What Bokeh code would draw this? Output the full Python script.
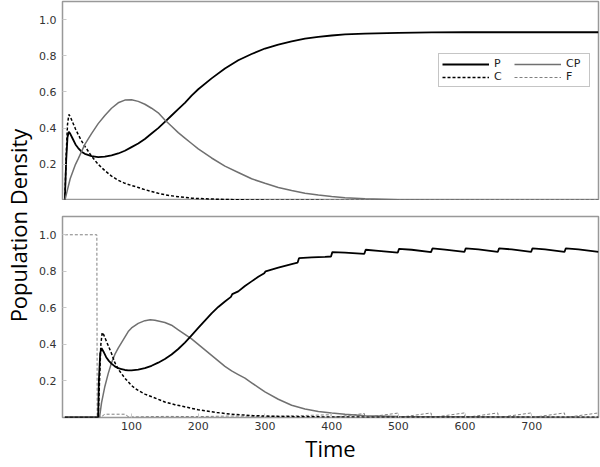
from bokeh.plotting import figure
from bokeh.layouts import row, column
from bokeh.models import Range1d, FixedTicker, Legend, LegendItem
from bokeh.embed import file_html
from bokeh.resources import INLINE

# ---------------- data ----------------
# Top panel
t_top = [0, 2, 4, 6, 8, 12, 16, 20, 25, 30, 40, 50, 60, 70, 80, 90, 100, 110, 120, 130,
         140, 150, 160, 170, 180, 190, 200, 220, 240, 260, 280, 300, 320, 340, 360, 380,
         400, 420, 450, 500, 550, 600, 650, 700, 750, 800]
P_top = [0, 0.22, 0.35, 0.38, 0.37, 0.34, 0.31, 0.29, 0.27, 0.258, 0.245, 0.24, 0.242, 0.25,
         0.26, 0.275, 0.295, 0.315, 0.34, 0.37, 0.40, 0.435, 0.47, 0.505, 0.54, 0.58, 0.615,
         0.675, 0.73, 0.775, 0.81, 0.84, 0.862, 0.88, 0.895, 0.905, 0.912, 0.918, 0.922,
         0.927, 0.929, 0.93, 0.93, 0.93, 0.93, 0.93]
C_top = [0, 0.25, 0.42, 0.475, 0.465, 0.43, 0.395, 0.365, 0.33, 0.30, 0.245, 0.20, 0.165,
         0.135, 0.112, 0.095, 0.083, 0.072, 0.06, 0.05, 0.04, 0.032, 0.026, 0.021, 0.017,
         0.013, 0.011, 0.008, 0.006, 0.004, 0.003, 0.002, 0.001, 0.001, 0.001, 0.001, 0.0,
         0.0, 0.0, 0.0, 0.0, 0.0, 0.0, 0.0, 0.0, 0.0]
CP_top = [0, 0.03, 0.06, 0.09, 0.12, 0.16, 0.20, 0.23, 0.27, 0.31, 0.37, 0.425, 0.47, 0.51,
          0.54, 0.555, 0.557, 0.548, 0.532, 0.51, 0.485, 0.445, 0.41, 0.375, 0.345, 0.315,
          0.285, 0.235, 0.19, 0.155, 0.12, 0.095, 0.072, 0.055, 0.04, 0.03, 0.022, 0.015,
          0.009, 0.004, 0.002, 0.001, 0.0, 0.0, 0.0, 0.0]
t_F_top = [0, 800]
F_top = [0, 0]

# Bottom panel
t_P_bot = [0, 50, 51, 53, 55, 58, 62, 66, 70, 75, 80, 85, 90, 95, 100, 110, 120, 130, 140,
           150, 160, 170, 180, 190, 200, 210, 220, 230, 240, 249, 251, 260, 270, 280, 290,
           299, 301, 320, 340, 349, 351, 370, 390, 399, 401, 420, 449, 451, 470, 499, 501,
           520, 549, 551, 570, 599, 601, 620, 649, 651, 670, 699, 701, 720, 749, 751, 770, 800]
P_bot = [0, 0, 0.2, 0.35, 0.38, 0.36, 0.33, 0.31, 0.295, 0.28, 0.27, 0.265, 0.26, 0.258,
         0.258, 0.262, 0.27, 0.283, 0.30, 0.32, 0.345, 0.375, 0.41, 0.45, 0.49, 0.53, 0.57,
         0.605, 0.635, 0.66, 0.675, 0.69, 0.72, 0.745, 0.77, 0.79, 0.80, 0.82, 0.84, 0.848,
         0.872, 0.876, 0.879, 0.881, 0.905, 0.902, 0.896, 0.918, 0.912, 0.902, 0.923, 0.918,
         0.905, 0.925, 0.919, 0.906, 0.926, 0.92, 0.906, 0.926, 0.92, 0.906, 0.926, 0.92,
         0.906, 0.926, 0.92, 0.906]
t_C_bot = [0, 50, 52, 54, 56, 58, 62, 66, 70, 75, 80, 90, 100, 105, 110, 120, 133, 150, 165,
           178, 200, 228, 250, 283, 320, 360, 400, 450, 500, 800]
C_bot = [0, 0, 0.2, 0.4, 0.465, 0.455, 0.42, 0.385, 0.35, 0.30, 0.265, 0.215, 0.175, 0.16,
         0.148, 0.128, 0.11, 0.085, 0.07, 0.06, 0.042, 0.027, 0.018, 0.01, 0.006, 0.004,
         0.003, 0.002, 0.001, 0.001]
t_CP_bot = [0, 50, 52, 55, 60, 65, 70, 75, 80, 85, 90, 95, 100, 110, 120, 128, 135, 140, 150,
            160, 170, 180, 190, 200, 210, 220, 230, 240, 250, 260, 270, 280, 290, 300, 320,
            340, 360, 380, 400, 420, 450, 500, 800]
CP_bot = [0, 0, 0.0, 0.08, 0.17, 0.24, 0.30, 0.345, 0.38, 0.41, 0.44, 0.47, 0.49, 0.515,
          0.53, 0.535, 0.532, 0.528, 0.52, 0.505, 0.48, 0.455, 0.43, 0.40, 0.37, 0.34, 0.31,
          0.28, 0.255, 0.235, 0.215, 0.19, 0.165, 0.14, 0.10, 0.067, 0.046, 0.033, 0.025,
          0.018, 0.01, 0.005, 0.0]
t_F_bot = [0, 48, 48.5, 55, 60, 90, 95, 100, 150, 200, 250, 300, 350, 399, 400, 449, 450,
           499, 500, 549, 550, 599, 600, 649, 650, 699, 700, 749, 750, 800]
F_bot = [1, 1, 0, 0.005, 0.018, 0.018, 0.005, 0.003, 0.006, 0.005, 0.008, 0.006, 0.01,
         0.015, 0, 0.022, 0, 0.024, 0, 0.025, 0, 0.025, 0, 0.025, 0, 0.025, 0, 0.025, 0, 0.025]

x_ticks = [100, 200, 300, 400, 500, 600, 700]
y_ticks = [0.2, 0.4, 0.6, 0.8, 1.0]
y_tick_labels = {0.2: "0.2", 0.4: "0.4", 0.6: "0.6", 0.8: "0.8", 1.0: "1.0"}

# ---------------- styles ----------------
TICK_FONT = "DejaVu Sans"
LABEL_FONT = "Open Sans"
S_P = dict(line_color="black", line_width=1.8)
S_C = dict(line_color="black", line_width=1.5, line_dash="3 2")
S_CP = dict(line_color="#707070", line_width=1.5)
S_F = dict(line_color="#808080", line_width=1.0, line_dash="3 2")


def style_axis(ax):
    ax.axis_line_color = None
    ax.major_tick_in = 4
    ax.major_tick_out = 0
    ax.major_tick_line_color = "#c8c8c8"
    ax.minor_tick_line_color = None
    ax.major_label_text_font = TICK_FONT
    ax.major_label_text_font_size = "11px"
    ax.major_label_text_color = "#333333"


def style_panel(p, xaxis=True):
    p.outline_line_color = "#999999"
    p.outline_line_width = 1.5
    p.grid.visible = False
    style_axis(p.yaxis[0])
    p.yaxis.ticker = FixedTicker(ticks=y_ticks)
    p.yaxis.major_label_overrides = y_tick_labels
    p.yaxis.major_label_standoff = 6
    if xaxis:
        style_axis(p.xaxis[0])
        p.xaxis.ticker = FixedTicker(ticks=x_ticks)
        p.xaxis.major_label_standoff = 4


def make_fig(frame_h, top_b, bottom_b, x_loc):
    return figure(frame_width=536, frame_height=frame_h,
                  x_range=Range1d(-3.5, 800), y_range=Range1d(0, 1.1),
                  x_axis_location=x_loc,
                  output_backend="svg", toolbar_location=None,
                  min_border_left=24, min_border_right=2,
                  min_border_top=top_b, min_border_bottom=bottom_b,
                  background_fill_color="white", border_fill_color="white")


top = make_fig(199, 1, 0, None)
style_panel(top, xaxis=False)
rP = top.line(t_top, P_top, **S_P)
rC = top.line(t_top, C_top, **S_C)
rCP = top.line(t_top, CP_top, **S_CP)
rF = top.line(t_F_top, F_top, **S_F)

legend = Legend(items=[LegendItem(label="P", renderers=[rP]),
                       LegendItem(label="C", renderers=[rC]),
                       LegendItem(label="CP", renderers=[rCP]),
                       LegendItem(label="F", renderers=[rF])],
                location=(376, 113), ncols=2)
legend.border_line_color = "#8c8c8c"
legend.border_line_width = 1
legend.label_text_font = TICK_FONT
legend.label_text_font_size = "11px"
legend.label_text_color = "#222222"
legend.glyph_width = 47
legend.glyph_height = 12
legend.label_height = 12
legend.label_standoff = 5
legend.spacing = 0
legend.padding = 3
legend.margin = 0
legend.background_fill_alpha = 1
top.add_layout(legend)

bot = make_fig(201, 16, 0, "below")
style_panel(bot, xaxis=True)
bot.line(t_F_bot, F_bot, **S_F)
bot.line(t_CP_bot, CP_bot, **S_CP)
bot.line(t_C_bot, C_bot, **S_C)
bot.line(t_P_bot, P_bot, **S_P)
bot.xaxis.axis_label = "Time"
bot.xaxis.axis_label_text_font = LABEL_FONT
bot.xaxis.axis_label_text_font_size = "22px"
bot.xaxis.axis_label_text_font_style = "normal"
bot.xaxis.axis_label_text_color = "black"
bot.xaxis.axis_label_standoff = 0

# narrow strip carrying the shared y-axis title
lab = figure(width=36, height=467, x_range=Range1d(0, 1), y_range=Range1d(0, 1),
             output_backend="svg", toolbar_location=None,
             min_border_left=34, min_border_right=0,
             min_border_top=0, min_border_bottom=17)
lab.xaxis.visible = False
lab.grid.visible = False
lab.outline_line_color = None
lab.yaxis.ticker = FixedTicker(ticks=[])
lab.yaxis.axis_line_color = None
lab.yaxis.major_tick_line_color = None
lab.yaxis.minor_tick_line_color = None
lab.yaxis.major_tick_out = 0
lab.yaxis.major_label_standoff = 0
lab.yaxis.axis_label = "Population Density"
lab.yaxis.axis_label_text_font = LABEL_FONT
lab.yaxis.axis_label_text_font_size = "22px"
lab.yaxis.axis_label_text_font_style = "normal"
lab.yaxis.axis_label_text_color = "black"
lab.yaxis.axis_label_standoff = 4

layout = row(lab, column(top, bot), margin=(0, 0, -10, 0))

open("out.html", "w").write(file_html(layout, INLINE))
